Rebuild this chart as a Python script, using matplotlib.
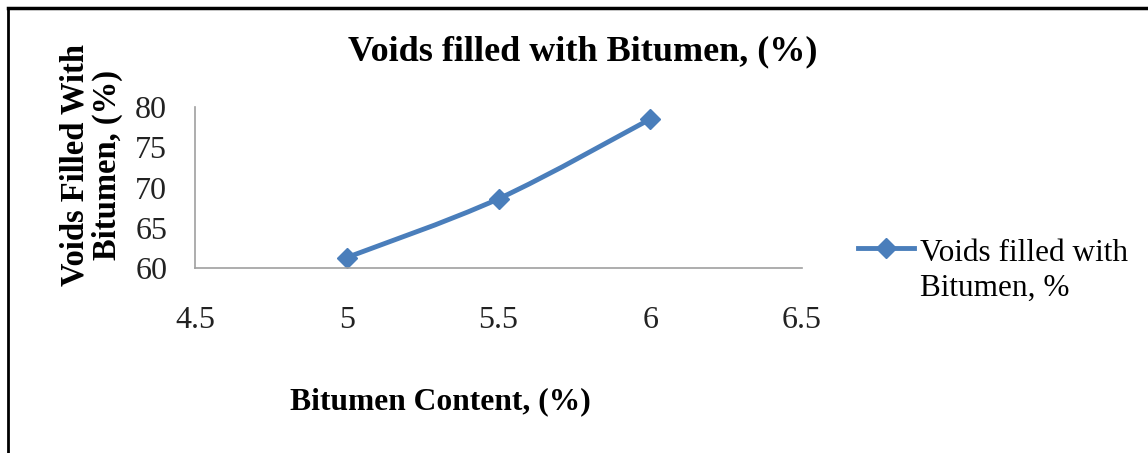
import numpy as np
import matplotlib.pyplot as plt
from matplotlib.path import Path
from matplotlib.patches import PathPatch
from matplotlib.lines import Line2D

bitumen = [5.0, 5.5, 6.0]
vfb = [61.3, 68.6, 78.5]
x_ticks = [4.5, 5, 5.5, 6, 6.5]
y_ticks = [60, 65, 70, 75, 80]

blue = "#4a7ebb"
plt.rcParams['font.family'] = ['Liberation Serif', 'DejaVu Serif']

W, H = 1148, 453
fig = plt.figure(figsize=(W / 100, H / 100), dpi=100)
ax = fig.add_axes([195 / W, 1 - 268 / H, 607 / W, 161 / H])

# smoothed line (Catmull-Rom through the points, drawn as Bezier)
pts = np.column_stack([bitumen, vfb])
verts = [tuple(pts[0])]
codes = [Path.MOVETO]
n = len(pts)
for i in range(n - 1):
    p0 = pts[max(i - 1, 0)]
    p1 = pts[i]
    p2 = pts[i + 1]
    p3 = pts[min(i + 2, n - 1)]
    c1 = p1 + (p2 - p0) / 6
    c2 = p2 - (p3 - p1) / 6
    verts += [tuple(c1), tuple(c2), tuple(p2)]
    codes += [Path.CURVE4] * 3
ax.add_patch(PathPatch(Path(verts, codes), facecolor="none", edgecolor=blue, lw=3.5))
ax.plot(bitumen, vfb, ls="none", marker="D", ms=10, color=blue)

ax.set_xlim(4.5, 6.5)
ax.set_ylim(60, 80)
ax.set_xticks(x_ticks)
ax.set_xticklabels([f"{t:g}" for t in x_ticks])
ax.set_yticks(y_ticks)
ax.tick_params(length=0, labelsize=23, colors="#222222")
ax.tick_params(axis="x", pad=27)
ax.tick_params(axis="y", pad=20)
for s in ["top", "right"]:
    ax.spines[s].set_visible(False)
for s in ["left", "bottom"]:
    ax.spines[s].set_color("#a0a0a0")
    ax.spines[s].set_linewidth(1.2)

fig.text(583 / W, 1 - 52 / H, "Voids filled with Bitumen, (%)", ha="center", va="center",
         fontsize=26, fontweight="bold")
fig.text(91 / W, 1 - 165 / H, "Voids Filled With\nBitumen, (%)", ha="center", va="center",
         rotation=90, fontsize=23.5, fontweight="bold", linespacing=1.05)
fig.text(440 / W, 1 - 402 / H, "Bitumen Content, (%)", ha="center", va="center",
         fontsize=22.7, fontweight="bold")

# legend entry: handle next to the first text line
fig.add_artist(Line2D([858 / W, 914 / W], [1 - 248 / H, 1 - 248 / H], transform=fig.transFigure,
                      color=blue, lw=3.5))
fig.add_artist(Line2D([886 / W], [1 - 248 / H], transform=fig.transFigure,
                      color=blue, marker="D", ms=10, ls="none"))
fig.text(920 / W, 1 - 271 / H, "Voids filled with\nBitumen, %", ha="left", va="center",
         fontsize=22.5, linespacing=1.28)

# outer frame (left and top edges visible)
fig.add_artist(Line2D([8 / W, 8 / W], [0, 1 - 8 / H], transform=fig.transFigure,
                      color="black", lw=2))
fig.add_artist(Line2D([8 / W, 1], [1 - 8 / H, 1 - 8 / H], transform=fig.transFigure,
                      color="black", lw=2.5))

fig.savefig("out.png", dpi=100)
